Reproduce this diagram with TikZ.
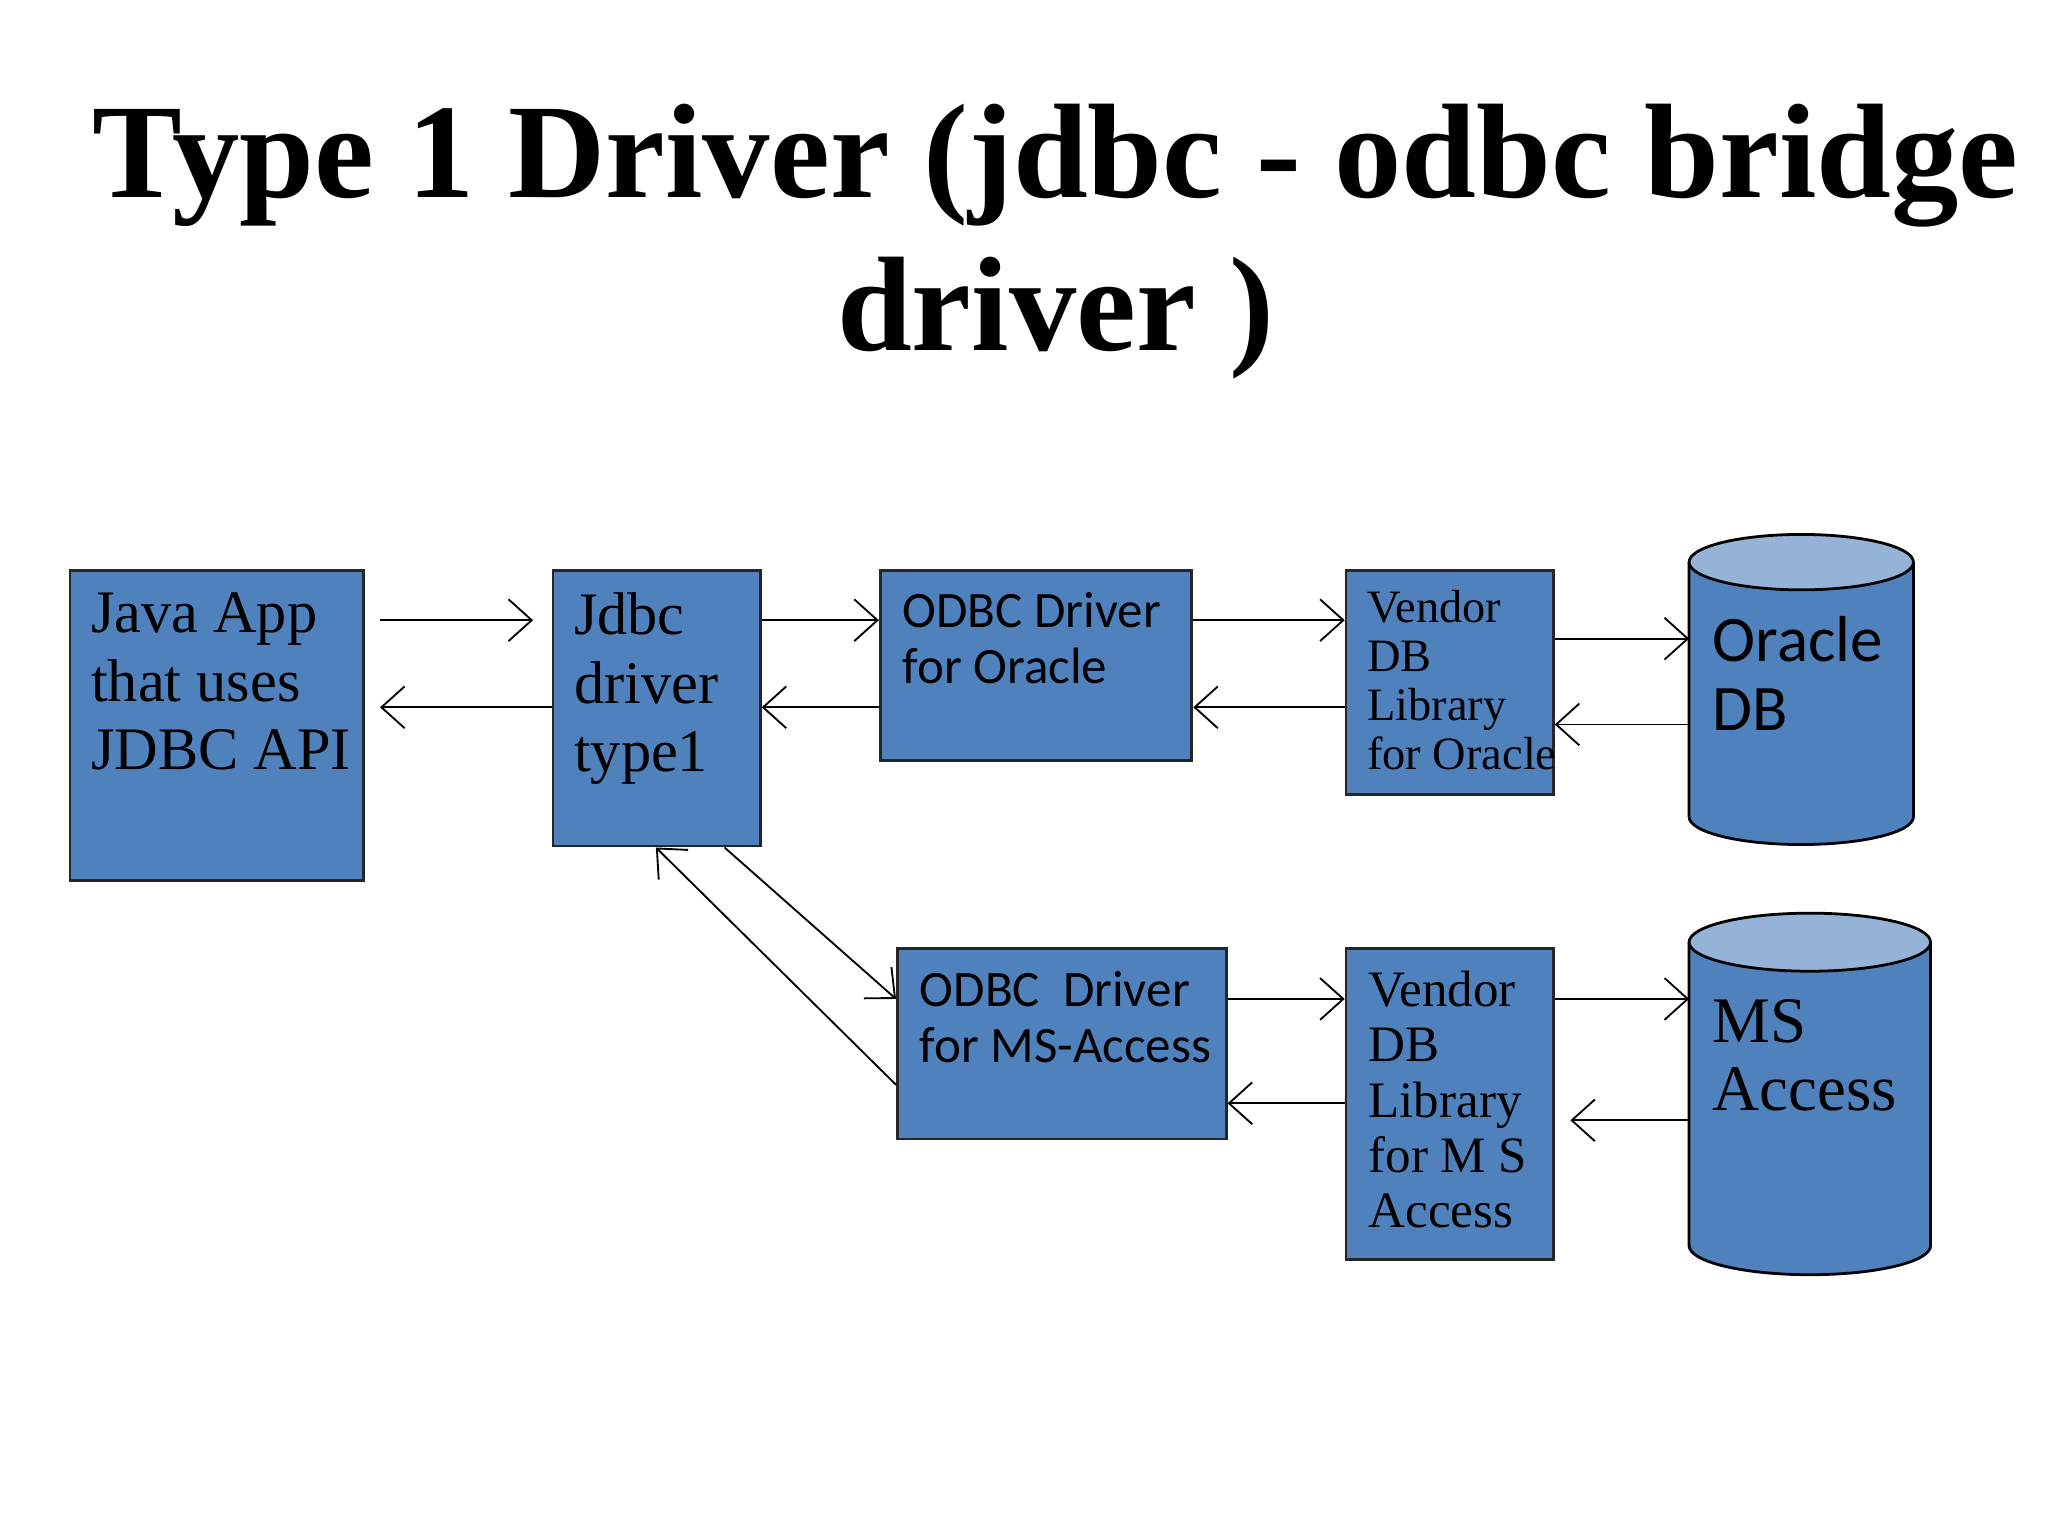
\documentclass[tikz,border=0pt]{standalone}
\usepackage{fontspec}
\setmainfont{Liberation Serif}
\newfontfamily\calib{Carlito}
\usetikzlibrary{positioning}
\usetikzlibrary{arrows.meta}
\definecolor{boxblue}{HTML}{4F81BD}
\definecolor{toplight}{HTML}{95B3D7}
\tikzset{
	x=0.01cm, y=-0.01cm,
	every path/.style={semithick},
	box/.style={rectangle, draw=black!85, fill=boxblue, inner sep=0pt, anchor=north west},
	txt/.style={anchor=north west, align=left, inner sep=0pt},
	flow/.style={-{Straight Barb[length=5pt,width=9pt]}, thin}
}
\newcommand{\dbcyl}[5]{% x1 x2 ytop ybot ry
	\fill[boxblue] (#1,#3) rectangle (#2,#4);
	\fill[boxblue] ({(#1+#2)/2},#4) ellipse ({(#2-#1)/2*0.01cm} and #5*0.01cm);
	\draw (#1,#3) -- (#1,#4) arc[start angle=180,end angle=360,x radius={(#2-#1)/2*0.01cm},y radius=#5*0.01cm] -- (#2,#3);
	\draw[fill=toplight] ({(#1+#2)/2},#3) ellipse ({(#2-#1)/2*0.01cm} and #5*0.01cm);
}
\begin{document}
\begin{tikzpicture}
	\useasboundingbox (0,0) rectangle (1552,1164);
	% Title
	\node (title) at (800,183) [align=center, font=\bfseries\fontsize{29}{33}\selectfont] {Type 1 Driver (jdbc - odbc bridge\\driver )};

	% boxes
	\node (java) at (52,431) [box, minimum width=2.22cm, minimum height=2.35cm] {};
	\node (jdbc) at (418,431) [box, minimum width=1.57cm, minimum height=2.09cm] {};
	\node (odo) at (666,431) [box, minimum width=2.36cm, minimum height=1.44cm] {};
	\node (vdo) at (1019,431) [box, minimum width=1.57cm, minimum height=1.70cm] {};
	\node (odm) at (679,718) [box, minimum width=2.49cm, minimum height=1.44cm] {};
	\node (vdm) at (1019,718) [box, minimum width=1.57cm, minimum height=2.35cm] {};
	\dbcyl{1280}{1450}{426}{619}{21}
	\dbcyl{1280}{1463}{714}{944}{22}

	% texts
	\node (tjava) at (68,448) [txt, font=\fontsize{13}{14.8}\selectfont] {Java App\\that uses\\JDBC API};
	\node (tjdbc) at (434,448) [txt, font=\fontsize{13}{14.8}\selectfont] {Jdbc\\driver\\type1};
	\node (todo) at (683,448) [txt, font=\calib\fontsize{11}{12}\selectfont] {ODBC Driver\\for Oracle};
	\node (tvdo) at (1035,446) [txt, font=\fontsize{10}{10.6}\selectfont] {Vendor\\DB\\Library\\for Oracle};
	\node (todm) at (696,735) [txt, font=\calib\fontsize{11}{12}\selectfont] {ODBC~~Driver\\for MS-Access};
	\node (tvdm) at (1036,735) [txt, font=\fontsize{11}{11.9}\selectfont] {Vendor\\DB\\Library\\for M S\\Access};
	\node (tora) at (1297,466) [txt, font=\calib\fontsize{14}{14.8}\selectfont] {Oracle\\DB};
	\node (tms) at (1297,756) [txt, font=\fontsize{14}{14.8}\selectfont] {MS\\Access};

	% free ends
	\coordinate (ja) at (288,470);
	\coordinate (jb) at (404,470);
	\coordinate (jc) at (288,536);
	\coordinate (oa) at (1280,484);
	\coordinate (ob) at (1280,549);
	\coordinate (ma) at (1280,757);
	\coordinate (mb) at (1280,849);
	\coordinate (mc) at (1190,849);

	% connectors
	\draw[flow] (ja) -- (jb);
	\draw[flow] (jdbc.west |- jc) -- (jc);
	\draw[flow] (jdbc.east |- ja) -- (odo.west |- ja);
	\draw[flow] (odo.west |- jc) -- (jdbc.east |- jc);
	\draw[flow] (odo.east |- ja) -- (vdo.west |- ja);
	\draw[flow] (vdo.west |- jc) -- (odo.east |- jc);
	\draw[flow] (vdo.east |- oa) -- (oa);
	\draw[flow] (ob) -- (vdo.east |- ob);
	\draw[flow] ([xshift=1.31cm]jdbc.south west) -- ([yshift=-0.39cm]odm.north west);
	\draw[flow] ([yshift=-1.04cm]odm.north west) -- ([xshift=0.79cm]jdbc.south west);
	\draw[flow] ([yshift=-0.39cm]odm.north east) -- ([yshift=-0.39cm]vdm.north west);
	\draw[flow] ([yshift=-1.18cm]vdm.north west) -- ([yshift=-1.18cm]odm.north east);
	\draw[flow] (vdm.east |- ma) -- (ma);
	\draw[flow] (mb) -- (mc);
\end{tikzpicture}
\end{document}
